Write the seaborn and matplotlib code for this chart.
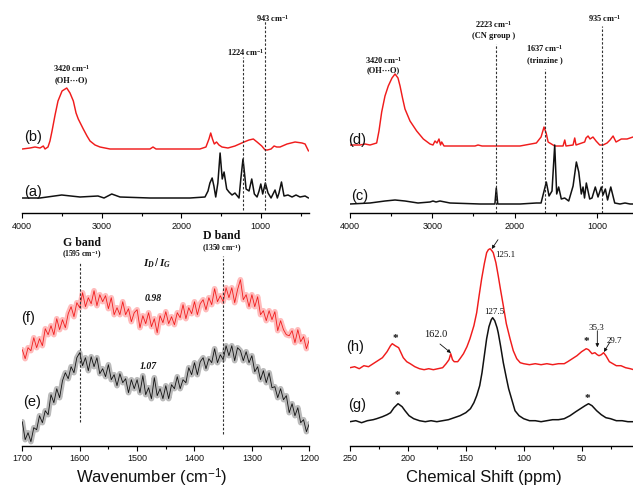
import numpy as np
import pandas as pd
import matplotlib
matplotlib.use("Agg")
import matplotlib.pyplot as plt
import seaborn as sns
from matplotlib.ticker import MultipleLocator

# ---------------- FTIR panel 1: (a) and (b) ----------------
ir_a_w = [4000, 3777, 3504, 3274, 3048, 2972, 2875, 2771, 2394, 1891, 1702, 1664, 1640, 1612, 1590, 1567,
          1540, 1512, 1485, 1462, 1429, 1400, 1362, 1325, 1274, 1250, 1224, 1200, 1185, 1148, 1114, 1081,
          1047, 1022, 1000, 976, 943, 909, 871, 821, 792, 771, 740, 708, 658, 607, 557, 507, 443, 400]
ir_a_h = [15, 15, 18, 16, 17, 15, 19, 16, 15, 15, 16, 22, 30, 35, 27, 16,
          30, 60, 34, 41, 24, 21, 18, 20, 15, 35, 54, 36, 24, 22, 34, 19,
          16, 22, 29, 19, 30, 20, 15, 23, 15, 20, 31, 17, 18, 16, 18, 16, 17, 15]
ir_b_w = [4000, 3903, 3840, 3777, 3736, 3714, 3677, 3652, 3626, 3588, 3551, 3500, 3441, 3400,
          3358, 3324, 3296, 3233, 3186, 3148, 3085, 3023, 2897, 2646, 2394, 2356, 2318, 2016,
          1766, 1690, 1652, 1630, 1608, 1585, 1557, 1526, 1488, 1413, 1325, 1211, 1148, 1094,
          1047, 988, 946, 917, 871, 833, 800, 758, 670, 569, 481, 443, 400]
ir_b_h = [64, 65, 66, 65, 67, 64, 66, 72, 82, 98, 112, 122, 125, 120,
          112, 100, 94, 84, 77, 72, 68, 66, 64, 64, 64, 66, 64, 64,
          64, 66, 74, 80, 74, 69, 71, 68, 66, 65, 67, 71, 73, 74,
          71, 67, 63, 63, 64, 67, 66, 66, 69, 71, 70, 69, 62]

# ---------------- FTIR panel 2: (c) and (d) ----------------
ir_c_w = [4000, 3757, 3575, 3453, 3332, 3174, 3028, 2992, 2955, 2907, 2785, 2420, 2240, 2223,
          2205, 1934, 1736, 1679, 1615, 1582, 1546, 1513, 1489, 1465, 1433, 1392, 1343, 1290,
          1250, 1221, 1190, 1169, 1151, 1129, 1088, 1060, 1020, 987, 947, 926, 898, 871, 832,
          784, 720, 659, 598, 562]
ir_c_h = [9, 10, 12, 13, 12, 10, 11, 12, 11, 12, 10, 9, 9, 25,
          9, 9, 10, 10, 31, 17, 22, 68, 19, 26, 14, 15, 12, 27,
          51, 41, 19, 26, 15, 30, 14, 15, 26, 16, 26, 18, 24, 13, 26,
          10, 9, 10, 9, 9]
ir_d_w = [4000, 3879, 3818, 3757, 3676, 3648, 3615, 3575, 3535, 3490, 3453, 3417, 3392, 3362,
          3332, 3271, 3190, 3109, 3028, 2992, 2967, 2943, 2919, 2900, 2886, 2858, 2663, 2481,
          2445, 2396, 2178, 1935, 1736, 1679, 1643, 1617, 1593, 1513, 1412, 1391, 1376, 1290,
          1270, 1254, 1149, 1133, 1108, 1084, 1048, 1011, 966, 926, 877, 841, 804, 768, 704,
          634, 562]
ir_d_h = [68, 68, 69, 68, 70, 82, 101, 117, 127, 135, 139, 135, 127, 115,
          104, 92, 82, 74, 69, 68, 72, 70, 74, 68, 71, 67, 67, 67,
          68, 67, 67, 67, 70, 76, 86, 80, 71, 67, 67, 73, 67, 68,
          75, 68, 71, 75, 77, 74, 76, 72, 68, 68, 70, 73, 77, 71, 74,
          74, 76]

# ---------------- Raman panel: (e) and (f) ----------------
raman_w = np.arange(1700, 1199, -5)
raman_f = [96, 87, 98, 95, 108, 98, 107, 100, 117, 111,
           120, 111, 127, 116, 126, 118, 132, 139, 129, 143,
           138, 153, 139, 148, 142, 155, 140, 151, 144, 150,
           137, 148, 131, 138, 131, 144, 131, 137, 124, 133,
           136, 118, 130, 122, 133, 119, 127, 113, 130, 123,
           134, 122, 129, 121, 133, 128, 141, 127, 138, 132,
           144, 131, 142, 146, 136, 148, 141, 157, 144, 150,
           144, 158, 148, 158, 143, 156, 166, 146, 151, 139,
           151, 139, 149, 131, 135, 125, 135, 126, 134, 115,
           125, 116, 111, 110, 115, 103, 116, 104, 109, 97, 106]
raman_e = [24, 6, 13, 4, 18, 16, 30, 23, 35, 31,
           51, 43, 57, 48, 65, 73, 67, 79, 73, 88,
           93, 80, 88, 75, 89, 79, 88, 72, 77, 69,
           81, 66, 71, 60, 72, 63, 67, 53, 66, 57,
           66, 53, 70, 51, 58, 47, 68, 50, 57, 47,
           60, 47, 61, 57, 69, 57, 66, 63, 78, 71,
           83, 71, 84, 88, 77, 87, 83, 97, 83, 91,
           86, 100, 90, 100, 85, 98, 95, 85, 94, 83,
           90, 74, 79, 66, 75, 63, 73, 58, 59, 48,
           57, 46, 50, 33, 42, 30, 38, 23, 26, 14, 22]

# ---------------- 13C NMR panel: (g) and (h) ----------------
nmr_g_ppm = [250, 245, 240, 235, 230, 227, 222, 218, 215, 212, 208.5, 205, 202.5, 199, 195, 190,
             185, 180, 175, 170, 165, 160, 155, 150, 146, 143, 140.6, 138, 136, 134, 132, 130,
             128, 126.8, 125, 123, 122, 120, 117.6, 115, 113, 110, 107.5, 104, 100, 95, 90, 85,
             80, 75, 70, 65, 60, 55, 51, 47, 44, 41, 37, 33, 29, 25, 20, 15, 10, 5]
nmr_g_h = [24, 25, 23, 25, 26, 27, 29, 31, 33, 38, 42, 39, 35, 30, 27, 25,
           24, 25, 24, 25, 26, 28, 30, 33, 37, 43, 50, 60, 73, 90, 107, 119,
           126, 128, 125, 118, 113, 100, 83, 68, 57, 45, 35, 30, 27, 25, 25, 24,
           25, 26, 26, 27, 30, 34, 37, 40, 42, 40, 35, 31, 28, 27, 25, 25, 24, 24]
nmr_h_ppm = [250, 246, 242, 238, 234, 230, 226, 222, 218, 215, 213.5, 211, 208, 206, 204, 201,
             198, 194, 190, 186, 182, 178, 174, 170, 167, 164.5, 163, 161.5, 160, 157, 155, 152,
             149, 146.4, 143, 140.6, 138.5, 136.3, 134, 132, 130.5, 129, 127.5, 126.3, 124, 122,
             120, 117.6, 115, 111.8, 109, 106, 103, 100, 95, 90, 85, 80, 75, 70, 65, 62, 58,
             54, 50, 46, 44, 41, 38.5, 36.5, 35, 33, 31, 29, 26, 23, 20, 16, 12, 8, 5]
nmr_h_h = [78, 79, 77, 80, 79, 82, 85, 88, 94, 100, 102, 100, 98, 93, 88, 84,
           82, 79, 77, 76, 77, 76, 77, 78, 82, 86, 92, 86, 84, 84, 87, 92,
           99, 107, 120, 133, 150, 167, 182, 193, 196, 197, 195, 193, 183, 170,
           156, 140, 122, 107, 95, 87, 83, 82, 81, 82, 81, 82, 81, 82, 82, 84, 87,
           90, 94, 97, 96, 92, 93, 91, 90, 91, 93, 90, 84, 82, 80, 80, 78, 77, 76]

RED = "#f01c1c"
BLACK = "#111111"

sns.set_theme(style="ticks")
plt.rcParams['font.family'] = ['Liberation Sans', 'DejaVu Sans']
plt.rcParams['mathtext.fontset'] = 'custom'
plt.rcParams['mathtext.rm'] = 'Liberation Sans'
plt.rcParams['mathtext.bf'] = 'Liberation Serif:bold'
plt.rcParams['mathtext.it'] = 'Liberation Serif:italic:bold'

W, H = 633, 489
fig = plt.figure(figsize=(W / 100, H / 100), dpi=100)


def make_ax(x0, x1, ybot, ytop):
    return fig.add_axes([x0 / W, 1 - ybot / H, (x1 - x0) / W, (ybot - ytop) / H])


def style(ax, xlim, ylim, major, minor):
    ax.set_xlim(*xlim)
    ax.set_ylim(*ylim)
    for s in ['left', 'right', 'top']:
        ax.spines[s].set_visible(False)
    ax.spines['bottom'].set_linewidth(1.0)
    ax.spines['bottom'].set_color('black')
    ax.set_yticks([])
    ax.xaxis.set_major_locator(MultipleLocator(major))
    ax.xaxis.set_minor_locator(MultipleLocator(minor))
    ax.tick_params(axis='x', which='major', direction='out', length=3.5, width=0.8,
                   labelsize=6.5, pad=2, color='black', labelcolor='#111111')
    ax.tick_params(axis='x', which='minor', direction='out', length=2.2, width=0.8, color='black')
    ax.set_xlabel('')
    ax.set_ylabel('')
    ax.patch.set_alpha(0)


def line(ax, x, y, color, lw=1.0, alpha=1.0):
    sns.lineplot(x=list(x), y=list(y), ax=ax, color=color, lw=lw, alpha=alpha,
                 estimator=None, sort=False)


def vdash(ax, x, y0, y1):
    ax.plot([x, x], [y0, y1], ls=(0, (2.2, 1.6)), color='#333333', lw=0.8)


serif_b = dict(family='Liberation Serif', weight='bold', ha='center', va='center', color='#111111')
lab = dict(fontsize=10.5, ha='center', va='center', color='#111111')

# ---------- Panel 1 ----------
ax1 = make_ax(22.3, 308.5, 214, 5)
style(ax1, (4000, 400), (0, 209), 1000, 500)
line(ax1, ir_b_w, ir_b_h, RED, lw=1.05)
line(ax1, ir_a_w, ir_a_h, BLACK, lw=1.1)
vdash(ax1, 1224, 3, 156)
vdash(ax1, 943, 3, 193)
ax1.text(853, 196, r"943 cm$^{\mathbf{-1}}$", fontsize=6, **serif_b)
ax1.text(1186, 162, r"1224 cm$^{\mathbf{-1}}$", fontsize=6, **serif_b)
ax1.text(3378, 145, r"3420 cm$^{\mathbf{-1}}$", fontsize=6, **serif_b)
ax1.text(3378, 134, "(OH···O)", fontsize=6, **serif_b)
ax1.text(3865, 77, "(b)", **lab)
ax1.text(3865, 22, "(a)", **lab)

# ---------- Panel 2 ----------
ax2 = make_ax(350, 633, 214, 5)
style(ax2, (4000, 562), (0, 209), 1000, 500)
line(ax2, ir_d_w, ir_d_h, RED, lw=1.05)
line(ax2, ir_c_w, ir_c_h, BLACK, lw=1.1)
vdash(ax2, 2223, 0, 169)
vdash(ax2, 1637, 0, 144)
vdash(ax2, 935, 0, 187)
ax2.text(3595, 154, r"3420 cm$^{\mathbf{-1}}$", fontsize=6, **serif_b)
ax2.text(3595, 144, "(OH···O)", fontsize=6, **serif_b)
ax2.text(2259, 189, r"2223 cm$^{\mathbf{-1}}$", fontsize=6, **serif_b)
ax2.text(2259, 178, "(CN group )", fontsize=6, **serif_b)
ax2.text(1635, 165, r"1637 cm$^{\mathbf{-1}}$", fontsize=6, **serif_b)
ax2.text(1635, 154, "(trinzine )", fontsize=6, **serif_b)
ax2.text(903, 195, r"935 cm$^{\mathbf{-1}}$", fontsize=6, **serif_b)
ax2.text(3915, 74, "(d)", **lab)
ax2.text(3878, 18, "(c)", **lab)

# ---------- Panel 3 (Raman) ----------
ax3 = make_ax(22.3, 309.3, 446.7, 232)
style(ax3, (1700, 1200), (0, 214.7), 100, 50)
line(ax3, raman_w, raman_f, "#ff6a6a", lw=4.0, alpha=0.45)
line(ax3, raman_w, raman_f, RED, lw=0.6)
line(ax3, raman_w, raman_e, "#666666", lw=4.0, alpha=0.45)
line(ax3, raman_w, raman_e, BLACK, lw=0.6)
vdash(ax3, 1599, 23.7, 183)
vdash(ax3, 1350, 11.7, 190)
ax3.text(1596.5, 203.4, "G band", fontsize=8.5, **serif_b)
ax3.text(1596.5, 191.7, r"(1595 cm$^{\mathbf{-1}}$)", fontsize=5.5, **serif_b)
ax3.text(1352.6, 210.7, "D band", fontsize=8.5, **serif_b)
ax3.text(1352.6, 198.4, r"(1350 cm$^{\mathbf{-1}}$)", fontsize=5.5, **serif_b)
ax3.text(1466, 183.4, r"$I_D\,/\,I_G$", fontsize=8, ha='center', va='center', color='#111111')
ax3.text(1472, 148.4, "0.98", fontsize=7, style='italic', **serif_b)
ax3.text(1480.5, 80, "1.07", fontsize=7, style='italic', **serif_b)
ax3.text(1689.5, 128.4, "(f)", **lab)
ax3.text(1683.6, 45, "(e)", **lab)

# ---------- Panel 4 (NMR) ----------
ax4 = make_ax(350, 633, 446.7, 232)
style(ax4, (250, 5.6), (0, 214.7), 50, 25)
line(ax4, nmr_h_ppm, nmr_h_h, RED, lw=1.05)
line(ax4, nmr_g_ppm, nmr_g_h, BLACK, lw=1.1)
serif = dict(family='Liberation Serif', ha='center', va='center', color='#111111')
arw = dict(arrowstyle='-|>', lw=0.6, color='#111111', mutation_scale=5, shrinkA=0, shrinkB=0)
ax4.text(116.2, 191.7, "125.1", fontsize=6.5, **serif)
ax4.annotate("", xy=(127.6, 196.7), xytext=(122.2, 206), arrowprops=arw)
ax4.text(125.1, 135, "127.5", fontsize=6.5, **serif)
ax4.text(176, 112.4, "162.0", fontsize=7.5, **serif)
ax4.annotate("", xy=(162.8, 92.7), xytext=(172.3, 101.7), arrowprops=arw)
ax4.text(37.6, 119, "35.3", fontsize=6.5, **serif)
ax4.annotate("", xy=(36.4, 98.4), xytext=(36.4, 115), arrowprops=arw)
ax4.text(22, 105.7, "29.7", fontsize=6.5, **serif)
ax4.annotate("", xy=(30.7, 93.7), xytext=(25.5, 103.7), arrowprops=arw)
for px, py in [(211.1, 110), (209.2, 53.4), (46.2, 106.7), (44.7, 50)]:
    ax4.text(px, py - 2, "*", fontsize=8, weight='bold', **serif)
ax4.text(245.7, 100, "(h)", **lab)
ax4.text(244.2, 41.7, "(g)", **lab)

fig.text(152 / W, 1 - 478 / H, r"Wavenumber (cm$^{-1}$)", fontsize=12, ha='center', va='center',
         color='#111111')
fig.text(483.7 / W, 1 - 478 / H, "Chemical Shift (ppm)", fontsize=12, ha='center', va='center',
         color='#111111')

fig.savefig("out.png", dpi=100)
